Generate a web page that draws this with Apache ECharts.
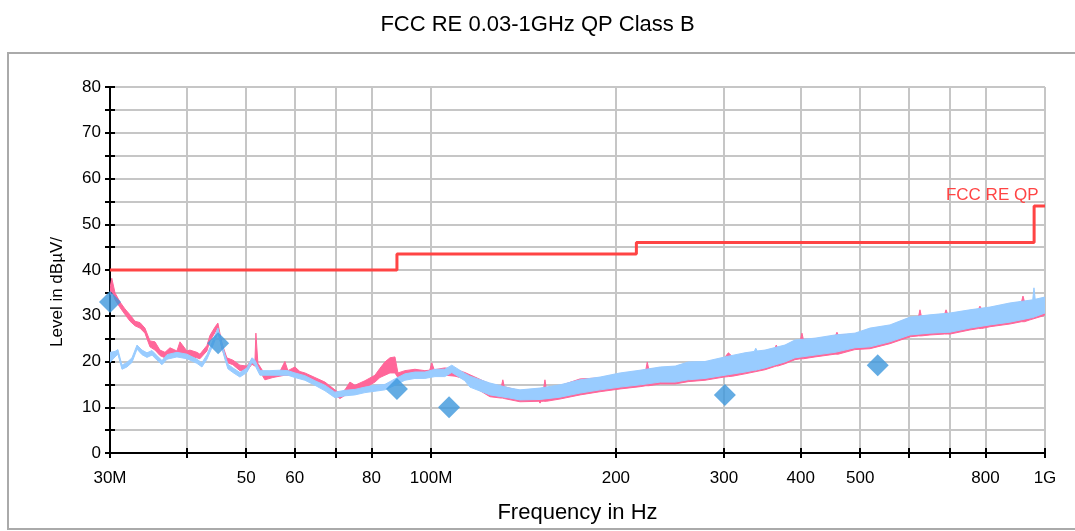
<!DOCTYPE html>
<html>
<head>
<meta charset="utf-8">
<script src="https://cdn.jsdelivr.net/npm/echarts@6/dist/echarts.min.js"></script>
<style>
  html, body { margin: 0; padding: 0; background: #fff; }
  #chart { width: 1075px; height: 531px; }
</style>
</head>
<body>
<div id="chart"></div>
<script>
// FCC Part 15 Class B quasi-peak limit (dBµV/m), frequency in MHz
const limitFreq  = [30, 88, 88, 216, 216, 960, 960, 1000];
const limitLevel = [40, 40, 43.5, 43.5, 46, 46, 54, 54];

// Pre-scan trace 1 (pink): lower / upper envelope of the sweep
const pinkFreq = [30.0, 30.2, 30.57, 31.15, 31.73, 32.34, 32.95, 33.57, 34.2, 34.85, 35.51, 36.18, 36.87, 37.57, 38.56, 39.0, 40.03, 40.48, 41.56, 42.03, 43.15, 43.64, 44.46, 44.96, 45.64, 46.5, 47.56, 48.83, 50.13, 51.08, 51.66, 51.85, 52.24, 53.63, 55.26, 56.73, 57.81, 58.46, 60.02, 61.16, 62.32, 64.7, 67.18, 69.74, 71.06, 72.41, 73.78, 75.17, 78.05, 81.03, 82.56, 84.12, 85.72, 87.34, 88.33, 90.67, 94.14, 97.73, 99.5, 100.3, 101.2, 105.3, 109.4, 113.5, 117.9, 124.7, 130.2, 130.9, 131.6, 139.6, 149.7, 150.5, 151.3, 152.5, 153.3, 154.1, 162.2, 174.9, 188.5, 203.2, 219.1, 223.8, 225, 226.3, 236.2, 249.9, 262.3, 279.4, 300, 305, 310, 324.6, 349.9, 363, 365, 367, 377.1, 391.5, 399.7, 401.9, 404.1, 422, 454.9, 456.3, 458.3, 460.5, 490.3, 518.7, 559.1, 602.7, 622.2, 625.7, 629.2, 649.6, 686, 690, 694, 700.2, 754.7, 779, 783.5, 788, 813.5, 876.8, 915.5, 920.7, 925.9, 945.2, 989, 994.5, 1000];
const pinkLow  = [34.5, 35.5, 33.5, 31.8, 30.3, 28.8, 27.8, 27.3, 26.2, 23.2, 22.5, 21.3, 20.8, 21.5, 21.3, 21.5, 21.2, 21.2, 20.8, 20.6, 22.3, 24.5, 26.3, 27.5, 22.8, 19.8, 19.3, 18.0, 17.9, 19.4, 19.0, 19.5, 18.6, 16.0, 16.5, 16.8, 17.0, 17.0, 17.2, 16.8, 16.5, 15.3, 14.3, 12.7, 11.9, 12.6, 13.2, 13.6, 14.2, 15.5, 16.5, 17.0, 17.5, 17.5, 16.5, 16.8, 17.0, 16.8, 16.9, 17.0, 17.0, 17.0, 16.8, 16.2, 14.3, 12.3, 12.0, 12.0, 11.9, 11.2, 11.3, 10.9, 11.3, 11.3, 11.3, 11.3, 11.8, 12.7, 13.4, 14.0, 14.5, 14.7, 14.7, 14.7, 15.1, 15.1, 15.6, 15.9, 16.6, 16.7, 16.8, 17.3, 18.2, 18.9, 19.0, 19.0, 19.5, 20.4, 20.6, 20.6, 20.6, 21.0, 21.6, 21.6, 21.6, 21.6, 22.6, 22.8, 23.9, 25.4, 25.6, 25.6, 25.6, 25.8, 26.0, 26.0, 26.0, 26.0, 26.9, 27.2, 27.2, 27.2, 27.6, 28.2, 28.7, 28.7, 28.7, 29.1, 29.9, 30.0, 30.2];
const pinkHigh = [36.0, 38.2, 35.0, 33.0, 31.5, 30.2, 28.8, 28.5, 27.3, 24.5, 24.3, 22.5, 22.0, 23.0, 22.3, 24.3, 22.3, 22.5, 22.0, 21.6, 23.5, 25.7, 27.5, 28.4, 24.0, 20.8, 20.3, 19.2, 19.0, 20.5, 20.0, 26.2, 19.6, 17.2, 17.6, 17.8, 20.0, 18.0, 18.8, 17.8, 17.5, 16.5, 15.5, 13.8, 13.0, 13.8, 15.5, 14.8, 15.8, 17.0, 18.5, 19.9, 20.8, 21.0, 17.5, 18.0, 18.3, 18.0, 18.1, 19.7, 18.2, 18.6, 18.3, 17.6, 16.6, 15.1, 14.6, 16.0, 14.5, 13.6, 14.0, 14.0, 14.0, 14.0, 16.0, 14.1, 14.7, 16.2, 16.4, 17.3, 17.9, 18.2, 19.9, 18.3, 18.6, 18.8, 19.7, 19.8, 20.7, 21.9, 21.0, 21.7, 22.3, 22.8, 23.6, 22.9, 23.4, 24.5, 24.7, 26.2, 24.8, 24.9, 25.6, 25.8, 26.4, 25.8, 26.0, 27.1, 27.8, 29.5, 29.8, 31.3, 29.8, 30.0, 30.3, 31.3, 30.4, 30.4, 31.1, 31.4, 32.1, 31.5, 31.7, 32.6, 33.0, 34.3, 33.1, 33.2, 33.7, 33.9, 33.9];

// Pre-scan trace 2 (light blue): lower / upper envelope of the sweep
const blueFreq = [30.0, 30.57, 30.9, 31.38, 31.97, 32.58, 33.2, 33.82, 34.46, 35.12, 35.78, 36.46, 37.15, 38.56, 40.03, 41.56, 42.35, 43.15, 44.13, 44.96, 46.16, 46.68, 47.56, 48.83, 50.13, 51.08, 51.66, 52.64, 54.65, 56.73, 58.46, 60.02, 62.32, 64.7, 67.18, 69.74, 72.41, 75.17, 78.05, 81.03, 84.12, 87.34, 90.67, 94.14, 97.73, 101.5, 105.3, 108.1, 113.5, 115.7, 124.7, 134.4, 139.6, 150.5, 162.2, 174.9, 188.5, 203.2, 219.1, 236.2, 249.9, 262.3, 279.4, 301.1, 324.6, 336.1, 338, 339.9, 349.9, 377.1, 391.5, 422, 454.9, 490.3, 518.7, 559.1, 602.7, 649.6, 700.2, 754.7, 813.5, 876.8, 945.2, 955, 959.5, 964, 1000];
const blueLow  = [19.8, 21.0, 21.6, 18.3, 18.8, 19.8, 22.7, 21.5, 20.9, 21.4, 20.3, 19.3, 20.5, 21.0, 20.6, 19.6, 18.8, 20.5, 23.5, 26.3, 20.5, 18.4, 17.6, 16.6, 17.6, 19.8, 19.2, 17.0, 17.0, 17.0, 17.0, 16.5, 15.9, 14.8, 13.6, 12.1, 12.5, 12.7, 13.2, 13.5, 13.8, 14.8, 15.9, 16.3, 16.3, 16.7, 16.7, 17.6, 15.8, 14.4, 12.7, 12.0, 11.6, 11.7, 12.2, 13.1, 13.8, 14.4, 14.9, 15.5, 15.5, 16.0, 16.3, 17.0, 17.7, 18.1, 18.1, 18.2, 18.6, 19.9, 20.8, 21.4, 22.0, 23.0, 23.2, 24.3, 25.8, 26.2, 26.4, 27.3, 28.0, 28.6, 29.5, 29.6, 29.7, 29.8, 30.6];
const blueHigh = [22.0, 22.2, 22.6, 19.2, 19.8, 20.8, 23.6, 22.5, 21.9, 22.4, 21.3, 20.2, 21.5, 22.0, 21.6, 20.5, 19.7, 21.5, 24.5, 27.3, 21.5, 19.4, 18.6, 17.6, 18.6, 20.8, 20.3, 18.0, 18.0, 18.1, 18.0, 17.5, 16.9, 15.8, 14.8, 13.3, 13.7, 13.9, 14.4, 14.8, 15.0, 16.2, 17.3, 17.7, 17.7, 18.3, 18.3, 19.2, 17.4, 16.8, 15.3, 14.2, 13.8, 14.2, 14.9, 16.0, 16.6, 17.5, 18.1, 18.8, 19.0, 19.9, 20.0, 21.0, 21.9, 22.2, 22.9, 22.3, 22.5, 23.6, 24.7, 25.1, 25.8, 26.2, 27.3, 28.0, 29.7, 30.2, 30.6, 31.3, 31.9, 32.8, 33.4, 33.5, 36.1, 33.6, 34.1];

// Quasi-peak final measurements
const qpFreq  = [30, 45, 88, 107, 301, 534];
const qpLevel = [33, 24, 14, 10, 12.7, 19.2];

// Axis ticks and labels
const xTickValues  = [30, 40, 50, 60, 70, 80, 100, 200, 300, 400, 500, 600, 700, 800, 1000];
const xLabelValues = [30, 50, 60, 80, 100, 200, 300, 400, 500, 800, 1000];
const xLabelText   = ['30M', '50', '60', '80', '100M', '200', '300', '400', '500', '800', '1G'];
const yLabelValues = [0, 10, 20, 30, 40, 50, 60, 70, 80];

const FONT = '"Liberation Sans", Arial, Helvetica, sans-serif';
const PINK = '#ff6699';
const BLUE = '#99ccff';
const RED = '#ff4444';
const MARK = '#3d97dc';

const zip = (xs, ys) => xs.map((x, i) => [x, ys[i]]);

// Filled envelope of a sweep: upper edge left to right, lower edge back again
function envelope(name, freq, lo, hi, color) {
  const rows = freq.map((f, i) => [f, lo[i], hi[i]]);
  return {
    name: name, type: 'custom', silent: true, z: 2, clip: true,
    data: rows,
    encode: { x: 0, y: [1, 2] },
    renderItem: function (params, api) {
      if (params.dataIndex !== 0) return null;
      const pts = [];
      for (let i = 0; i < rows.length; i++) pts.push(api.coord([rows[i][0], rows[i][2]]));
      for (let i = rows.length - 1; i >= 0; i--) pts.push(api.coord([rows[i][0], rows[i][1]]));
      return {
        type: 'polygon',
        shape: { points: pts },
        style: { fill: color, stroke: color, lineWidth: 1, lineJoin: 'miter' }
      };
    }
  };
}

const xLabelMap = {};
xLabelValues.forEach((v, i) => { xLabelMap[v] = xLabelText[i]; });

const chart = echarts.init(document.getElementById('chart'), null, { renderer: 'canvas' });

const commonX = { type: 'log', logBase: 10, min: 30, max: 1000, gridIndex: 0 };
const commonY = { type: 'value', min: 0, max: 80, interval: 5, gridIndex: 0 };

chart.setOption({
  animation: false,
  backgroundColor: '#fff',
  title: {
    text: 'FCC RE 0.03-1GHz QP Class B',
    left: 'center', top: 9,
    textStyle: { fontFamily: FONT, fontSize: 22, fontWeight: 'normal', color: '#000' }
  },
  graphic: [
    {
      type: 'rect', silent: true, z: -10,
      shape: { x: 8, y: 53, width: 1090, height: 476 },
      style: { fill: '#fff', stroke: '#aaaaaa', lineWidth: 2 }
    },
    {
      type: 'text', silent: true, x: 57, y: 292, rotation: Math.PI / 2,
      style: {
        text: 'Level in dBµV/', fill: '#000', align: 'center', verticalAlign: 'middle',
        font: '17px ' + FONT
      }
    }
  ],
  grid: { left: 110, right: 30, top: 87, bottom: 78, containLabel: false },
  xAxis: [
    Object.assign({}, commonX, {
      position: 'bottom',
      name: 'Frequency in Hz', nameLocation: 'middle', nameGap: 49,
      nameTextStyle: { fontFamily: FONT, fontSize: 22, color: '#000' },
      axisLine: { show: true, onZero: false, lineStyle: { color: '#000', width: 2 } },
      axisTick: { show: true, inside: false, length: 5, customValues: xTickValues,
                  lineStyle: { color: '#000', width: 2 } },
      axisLabel: {
        customValues: xLabelValues, margin: 17, color: '#000',
        fontFamily: FONT, fontSize: 17,
        formatter: v => xLabelMap[Math.round(v)] || ''
      },
      splitLine: { show: true, lineStyle: { color: '#c6c6c6', width: 2 } },
      minorTick: { show: false }, minorSplitLine: { show: false }
    }),
    Object.assign({}, commonX, {
      position: 'bottom',
      axisLine: { show: false, onZero: false },
      axisTick: { show: true, inside: true, length: 5, customValues: xTickValues,
                  lineStyle: { color: '#000', width: 2 } },
      axisLabel: { show: false },
      splitLine: { show: false }
    })
  ],
  yAxis: [
    Object.assign({}, commonY, {
      position: 'left',
      axisLine: { show: true, onZero: false, lineStyle: { color: '#000', width: 2 } },
      axisTick: { show: true, inside: false, length: 5, lineStyle: { color: '#000', width: 2 } },
      axisLabel: {
        margin: 9, color: '#000', fontFamily: FONT, fontSize: 17,
        formatter: v => (yLabelValues.indexOf(v) >= 0 ? String(v) : '')
      },
      splitLine: { show: true, lineStyle: { color: '#c6c6c6', width: 2 } }
    }),
    Object.assign({}, commonY, {
      position: 'left',
      axisLine: { show: false, onZero: false },
      axisTick: { show: true, inside: true, length: 5, lineStyle: { color: '#000', width: 2 } },
      axisLabel: { show: false },
      splitLine: { show: false }
    })
  ],
  series: [
    envelope('pink', pinkFreq, pinkLow, pinkHigh, PINK),
    envelope('blue', blueFreq, blueLow, blueHigh, BLUE),
    {
      name: 'FCC RE QP', type: 'line', data: zip(limitFreq, limitLevel),
      symbol: 'none', silent: true, z: 4,
      lineStyle: { color: RED, width: 3 },
      markPoint: {
        silent: true, symbol: 'circle', symbolSize: 1,
        itemStyle: { color: 'rgba(0,0,0,0)' },
        data: [{
          coord: [limitFreq[limitFreq.length - 1], limitLevel[limitLevel.length - 1]],
          label: {
            show: true, formatter: 'FCC RE QP', color: RED,
            fontFamily: FONT, fontSize: 17,
            position: [-6, -2], align: 'right', verticalAlign: 'bottom'
          }
        }]
      }
    },
    {
      name: 'QP', type: 'scatter', data: zip(qpFreq, qpLevel),
      symbol: 'diamond', symbolSize: 22, z: 5, silent: true,
      itemStyle: { color: MARK }
    }
  ]
});
</script>
</body>
</html>
